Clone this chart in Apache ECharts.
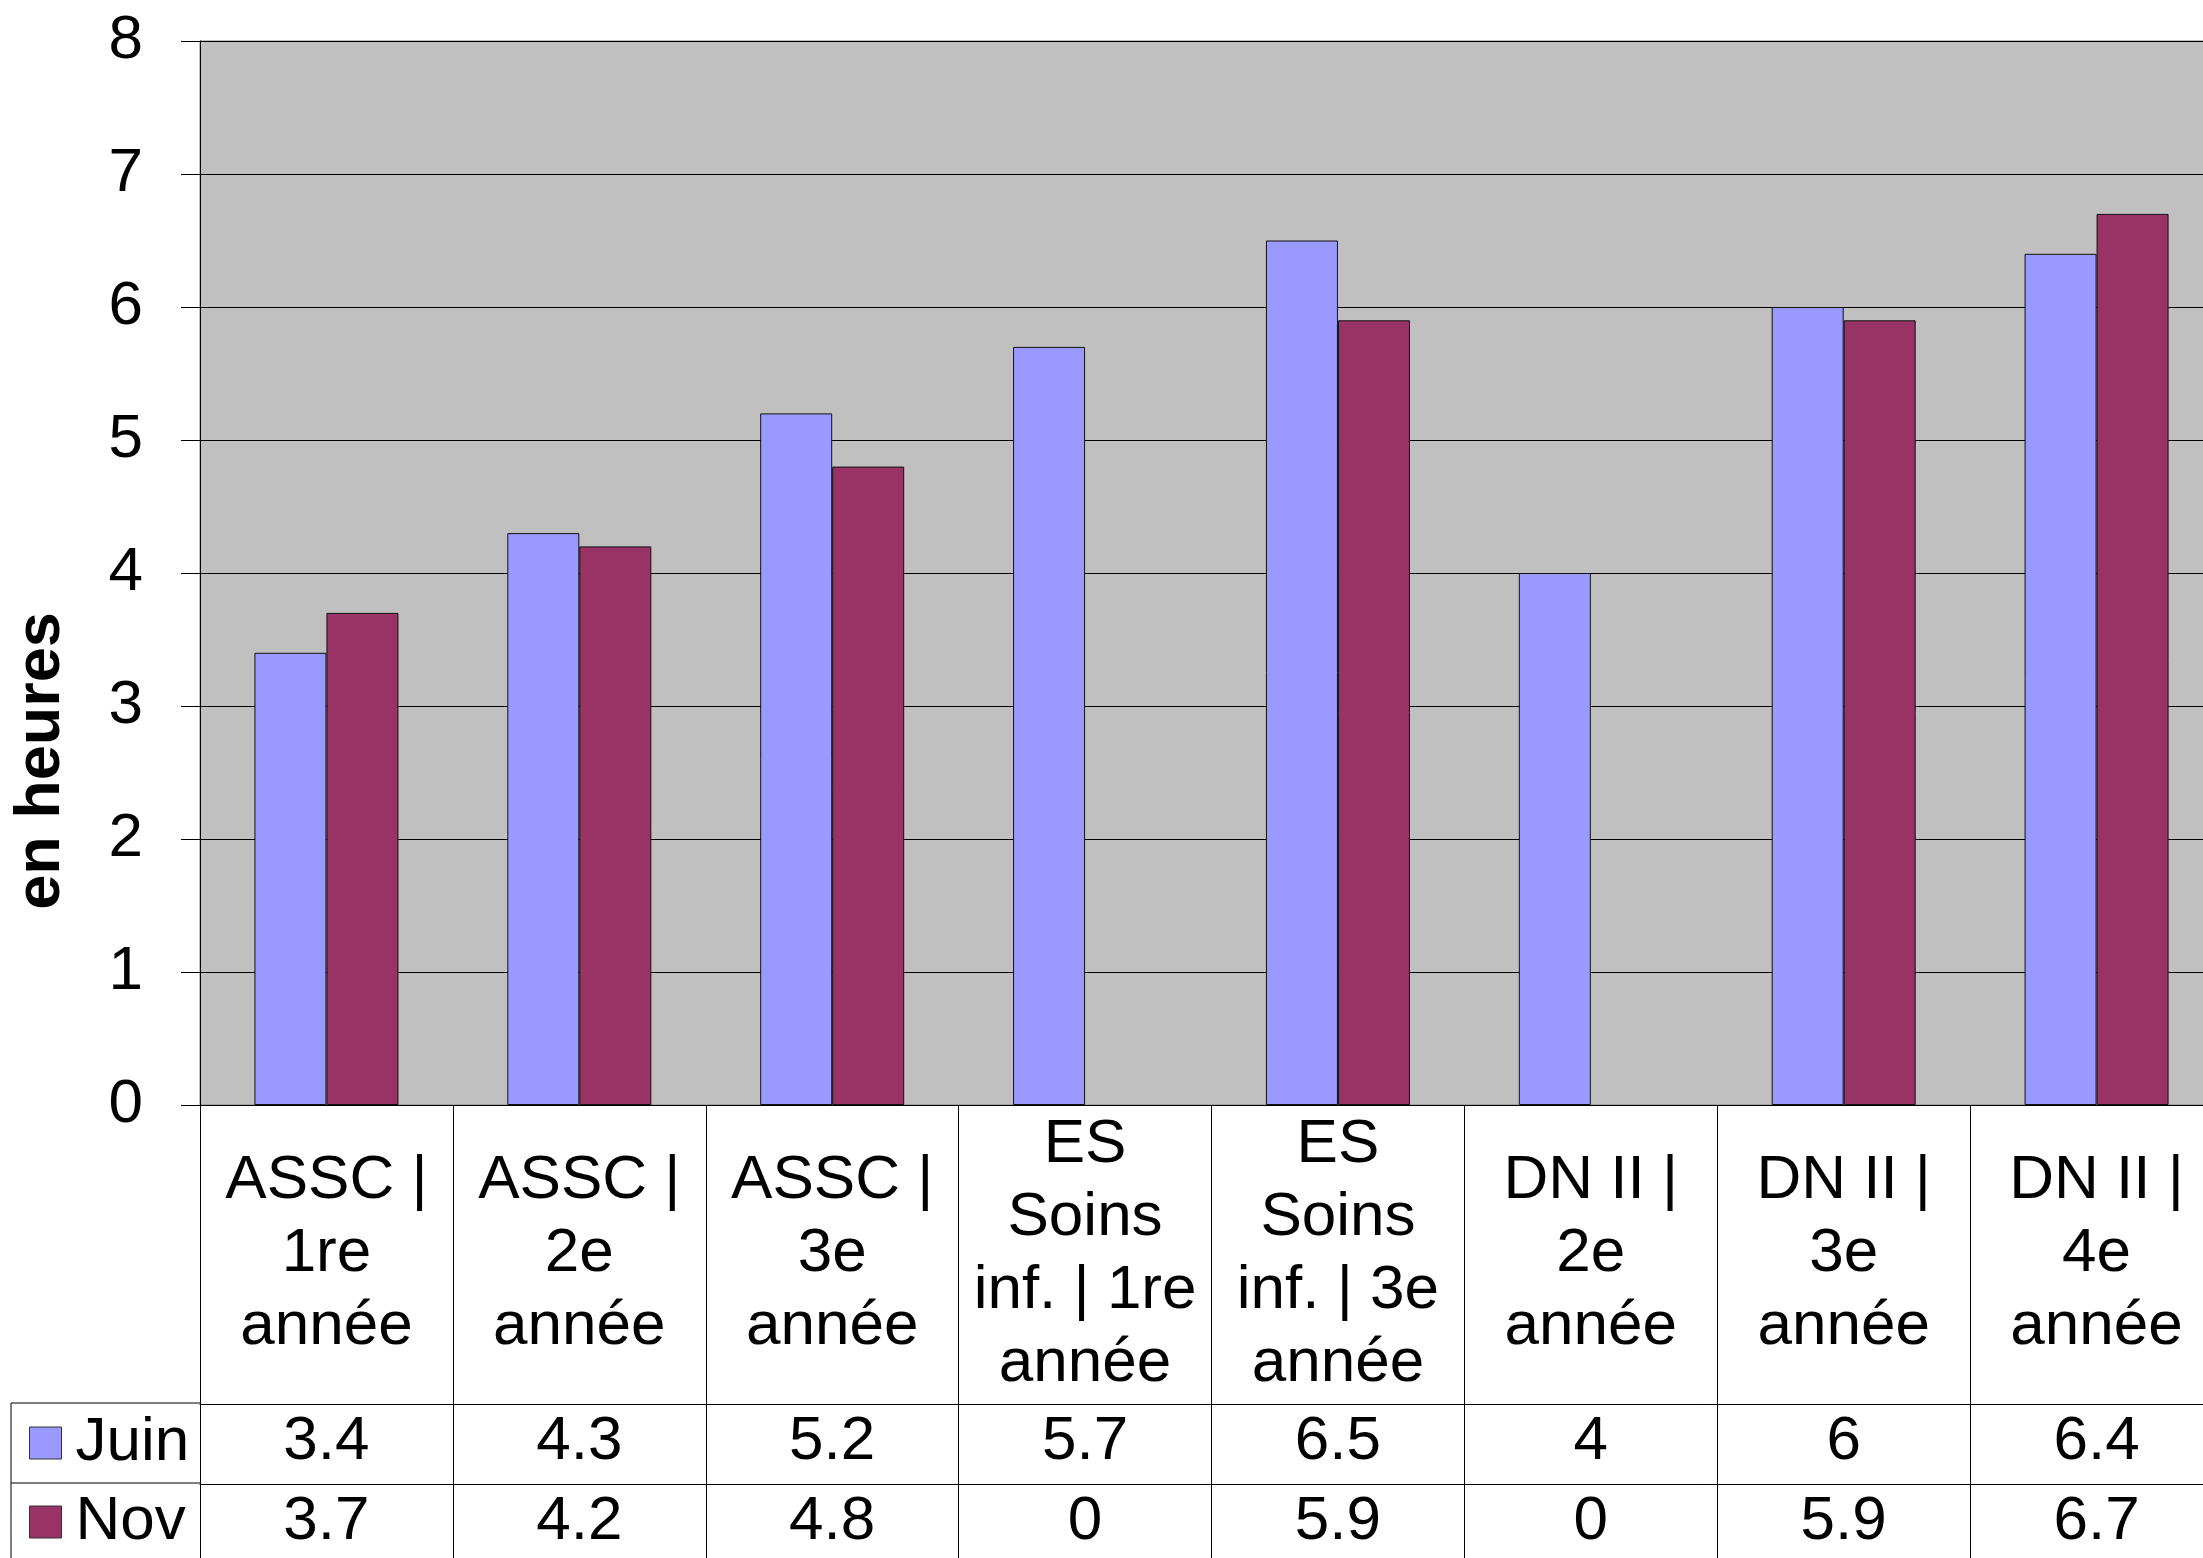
<!DOCTYPE html>
<html>
<head>
<meta charset="utf-8">
<script src="https://cdn.jsdelivr.net/npm/echarts@6/dist/echarts.min.js"></script>
<style>
html,body{margin:0;padding:0;background:#fff;}
#chart{width:2203px;height:1558px;}
</style>
</head>
<body>
<div id="chart"></div>
<script>
const categories = ['ASSC | 1re année','ASSC | 2e année','ASSC | 3e année','ES Soins inf. | 1re année','ES Soins inf. | 3e année','DN II | 2e année','DN II | 3e année','DN II | 4e année'];
const seriesNames = ['Juin','Nov'];
const juin = [3.4,4.3,5.2,5.7,6.5,4,6,6.4];
const nov = [3.7,4.2,4.8,0,5.9,0,5.9,6.7];
const yMin = 0, yMax = 8, yInterval = 1;
const yTitle = 'en heures';

const FONT = 'Liberation Sans, Arial, sans-serif';
const colors = ['#9999FF','#993366'];

// word wrap for the category cells (no trailing spaces)
const measureCtx = document.createElement('canvas').getContext('2d');
measureCtx.font = '62px ' + FONT;
function wrap(text, maxW){
  const words = text.split(' ');
  const lines = [];
  let cur = '';
  words.forEach(w => {
    const t = cur ? cur + ' ' + w : w;
    if (cur && measureCtx.measureText(t).width > maxW) { lines.push(cur); cur = w; }
    else cur = t;
  });
  if (cur) lines.push(cur);
  return lines.join('\n');
}

const chart = echarts.init(document.getElementById('chart'), null, {renderer:'canvas'});
const lineStyle = {color:'#000', width:1};
const barData = arr => arr.map(v => v === 0 ? {value:v, itemStyle:{borderWidth:0}} : v);

const option = {
  animation:false,
  color: colors,
  textStyle:{fontFamily:FONT, color:'#000'},
  grid:{left:200, top:41, right:-20, height:1064, show:true, backgroundColor:'#C0C0C0', borderColor:'#808080', borderWidth:1, containLabel:false, outerBoundsMode:'none'},
  legend:{
    orient:'vertical', left:29, top:1412, padding:0, itemWidth:32, itemHeight:32, itemGap:17,
    icon:'rect',
    itemStyle:{borderColor:'#333', borderWidth:1},
    textStyle:{fontSize:62, lineHeight:62, color:'#000', fontFamily:FONT, padding:[0,0,0,9]},
    data: seriesNames
  },
  xAxis:[
    {type:'category', data:categories, position:'bottom', offset:0,
     axisLine:{show:true, lineStyle}, axisTick:{show:true, interval:0, length:299, lineStyle},
     axisLabel:{interval:0, fontSize:62, lineHeight:73, color:'#000', fontFamily:FONT, align:'center', verticalAlign:'middle', margin:149,
       formatter: v => wrap(v, 240)}},
    {type:'category', data:juin.map(String), position:'bottom', offset:299, gridIndex:0,
     axisLine:{show:true, onZero:false, lineStyle}, axisTick:{show:true, interval:0, length:80, lineStyle},
     axisLabel:{interval:0, fontSize:62, color:'#000', fontFamily:FONT, verticalAlign:'middle', margin:38}},
    {type:'category', data:nov.map(String), position:'bottom', offset:379, gridIndex:0,
     axisLine:{show:true, onZero:false, lineStyle}, axisTick:{show:true, interval:0, length:80, lineStyle},
     axisLabel:{interval:0, fontSize:62, color:'#000', fontFamily:FONT, verticalAlign:'middle', margin:38}}
  ],
  yAxis:{type:'value', min:yMin, max:yMax, interval:yInterval,
    axisLine:{show:true, lineStyle}, axisTick:{show:true, length:19, lineStyle},
    splitLine:{show:true, lineStyle:{color:'#000', width:1}},
    axisLabel:{fontSize:62, color:'#000', fontFamily:FONT, margin:57}
  },
  series:[
    {name:seriesNames[0], type:'bar', data:barData(juin), barWidth:72, barGap:'0%', itemStyle:{color:colors[0], borderColor:'#111', borderWidth:1}},
    {name:seriesNames[1], type:'bar', data:barData(nov), barWidth:72, barGap:'0%', itemStyle:{color:colors[1], borderColor:'#111', borderWidth:1}}
  ],
  graphic:[
    {type:'text', x:42, y:761, rotation:Math.PI/2, style:{text:yTitle, font:'bold 63px '+FONT, fill:'#000', textAlign:'center', textVerticalAlign:'middle'}},
    {type:'line', shape:{x1:11, y1:1403, x2:200, y2:1403}, style:{stroke:'#000', lineWidth:1}},
    {type:'line', shape:{x1:11, y1:1483, x2:200, y2:1483}, style:{stroke:'#000', lineWidth:1}},
    {type:'line', shape:{x1:11, y1:1403, x2:11, y2:1558}, style:{stroke:'#000', lineWidth:1}}
  ]
};
chart.setOption(option);
</script>
</body>
</html>
